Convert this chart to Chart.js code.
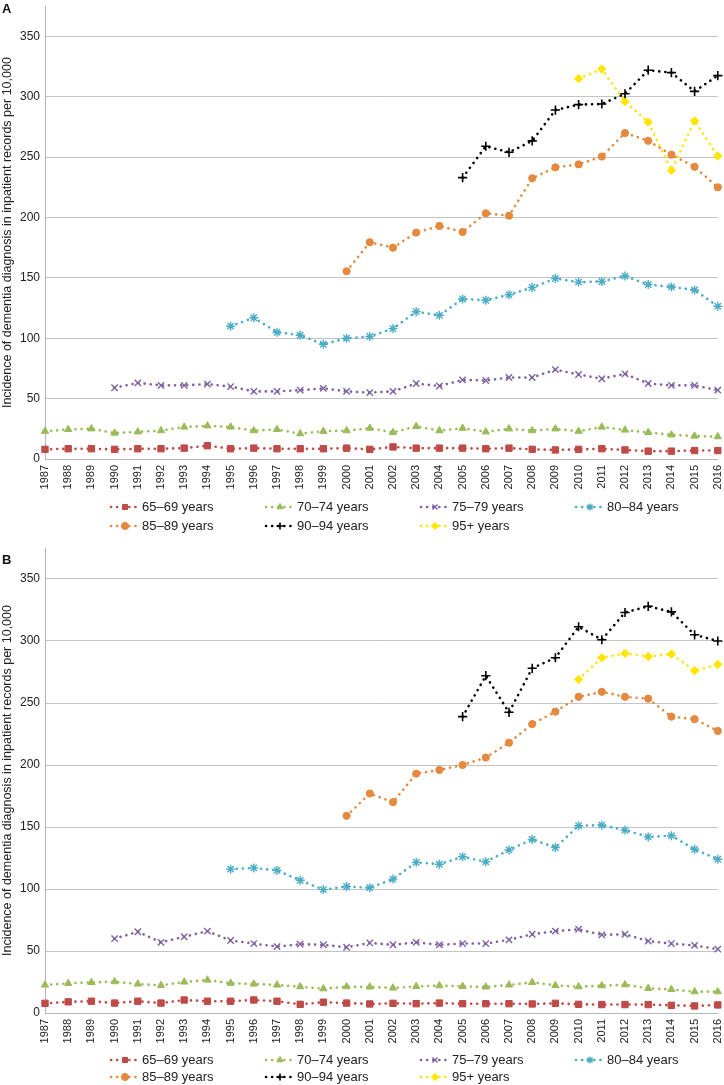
<!DOCTYPE html>
<html lang="en">
<head>
  <meta charset="UTF-8" />
  <title>Incidence of dementia diagnosis in inpatient records</title>
  <script src="https://cdn.jsdelivr.net/npm/chart.js"></script>
  <style>
    body { margin: 0; background: #fff; font-family: "Liberation Sans", Arial, sans-serif; }
    #wrap { position: relative; width: 724px; height: 1085px; }
    canvas { position: absolute; left: 0; }
    .tag { position: absolute; left: 2px; font-weight: bold; font-size: 13px; color: #111; }
  </style>
</head>
<body>
  <div id="wrap">
    <canvas id="chartA" width="724" height="540" style="top:0"></canvas>
    <canvas id="chartB" width="724" height="545" style="top:540px"></canvas>
    <div class="tag" style="top:1px">A</div>
    <div class="tag" style="top:552px">B</div>
  </div>

  <script>
    const years = ['1987','1988','1989','1990','1991','1992','1993','1994','1995','1996',
                   '1997','1998','1999','2000','2001','2002','2003','2004','2005','2006',
                   '2007','2008','2009','2010','2011','2012','2013','2014','2015','2016'];
    const groups = ['65–69 years','70–74 years','75–79 years','80–84 years',
                    '85–89 years','90–94 years','95+ years'];
    const yTicks = [0, 50, 100, 150, 200, 250, 300, 350];
    const _ = null;

    // panel A
    const a65 = [8, 8.5, 8.5, 8, 8.5, 8.5, 9, 11, 8.5, 9, 8.5, 8.5, 8.5, 9, 8, 10, 9, 9, 9, 8.5, 9, 8, 7.5, 8, 8.5, 7.5, 6.5, 6.5, 7, 7];
    const a70 = [23, 24.5, 25, 21.5, 22.5, 23.5, 26.5, 27.5, 26.5, 23.5, 24.5, 21, 23, 23.5, 25.5, 22, 27, 23.5, 25.5, 22.5, 25, 23.5, 25, 23, 26.5, 24, 22, 20, 19, 18.5];
    const a75 = [_, _, _, 59, 63, 61, 61, 62, 60, 56, 56, 57, 58.5, 56, 55, 56, 62.5, 60.5, 65.5, 65, 67.5, 67.5, 74, 70, 66.5, 70.5, 62.5, 61, 61, 57];
    const a80 = [_, _, _, _, _, _, _, _, 110, 117, 105, 102.5, 95, 100, 101.5, 108, 122, 119, 132.5, 131.5, 136, 142, 149.5, 146.5, 147, 151.5, 144.5, 142.5, 140, 126.5];
    const a85 = [_, _, _, _, _, _, _, _, _, _, _, _, _, 155.5, 179.5, 175, 187.5, 193, 188, 203.5, 201.5, 232.5, 241.5, 244, 250.5, 270, 263.5, 252, 242, 225];
    const a90 = [_, _, _, _, _, _, _, _, _, _, _, _, _, _, _, _, _, _, 233, 259, 254, 263.5, 289, 293.5, 294, 302.5, 322, 320, 304.5, 317.5];
    const a95 = [_, _, _, _, _, _, _, _, _, _, _, _, _, _, _, _, _, _, _, _, _, _, _, 315, 323, 296, 279, 239, 280, 251];

    // panel B
    const b65 = [7.8, 9, 9.5, 8, 9.5, 8, 10.5, 9.5, 9.5, 10.5, 9.5, 7, 8.7, 8, 7.3, 7.8, 7.5, 8, 7.5, 7.5, 7.5, 7.3, 7.8, 7, 6.8, 6.8, 6.8, 6.2, 5.7, 6.5];
    const b70 = [22.6, 23.9, 24.7, 25.3, 23.4, 22.3, 25, 26.6, 24, 23.4, 22.6, 21.2, 19.6, 21.2, 21, 20.2, 21.5, 22, 21.5, 21, 22.6, 24.7, 22.3, 21.2, 22, 22.8, 19.9, 19, 17.2, 17.2];
    const b75 = [_, _, _, 60, 65.5, 57, 61.5, 66, 58.5, 56, 53.5, 55.5, 55, 53, 56.5, 55, 57, 55, 56, 56, 59, 63.5, 66, 67.5, 63, 63.5, 58, 56, 54.5, 51.5];
    const b80 = [_, _, _, _, _, _, _, _, 116, 117, 115, 107, 99.5, 102, 101, 108, 121.5, 120, 126, 122, 131.5, 140, 133.5, 151, 151.5, 147.5, 142, 143, 132, 124];
    const b85 = [_, _, _, _, _, _, _, _, _, _, _, _, _, 159, 177, 170, 193, 196, 200, 206, 218, 233, 243, 255, 259, 255, 253.5, 239, 237, 227.5];
    const b90 = [_, _, _, _, _, _, _, _, _, _, _, _, _, _, _, _, _, _, 239, 272, 242.5, 278, 286.5, 311.5, 301, 323, 328, 323.5, 305, 300];
    const b95 = [_, _, _, _, _, _, _, _, _, _, _, _, _, _, _, _, _, _, _, _, _, _, _, 269, 286.5, 290, 287.5, 289.5, 276, 281];

    // marker looks, same order as groups
    const looks = [
      { color: '#BE4B48', style: 'rect',      radius: 4.5, bw: 1 },
      { color: '#9BBB59', style: 'triangle',  radius: 4.2, bw: 1 },
      { color: '#7F63A1', style: 'crossRot',  radius: 4.5, bw: 1.4 },
      { color: '#4AACC5', style: 'star',      radius: 4.5, bw: 1.4 },
      { color: '#E4893E', style: 'circle',    radius: 3.6, bw: 1 },
      { color: '#000000', style: 'cross',     radius: 4.6, bw: 1.6 },
      { color: '#FFE500', style: 'rectRot',   radius: 4.2, bw: 1 }
    ];

    const FONT = '"Liberation Sans", Arial, sans-serif';
    Chart.defaults.font.family = FONT;
    Chart.defaults.color = '#222';

    // legend laid out as a left aligned grid of 4 columns
    const gridLegend = {
      id: 'gridLegend',
      afterDraw(chart, args, opts) {
        const ctx = chart.ctx;
        const base = chart.chartArea.bottom;
        ctx.save();
        ctx.font = '13px ' + FONT;
        ctx.textBaseline = 'middle';
        chart.data.datasets.forEach((ds, i) => {
          const x = opts.left + (i % 4) * opts.colWidth;
          const y = base + opts.rows[Math.floor(i / 4)];
          ctx.strokeStyle = ds.borderColor;
          ctx.lineWidth = ds.borderWidth;
          ctx.lineCap = 'round';
          ctx.setLineDash(ds.borderDash);
          ctx.beginPath();
          ctx.moveTo(x, y);
          ctx.lineTo(x + 27, y);
          ctx.stroke();
          ctx.setLineDash([]);
          ctx.lineCap = 'butt';
          ctx.fillStyle = ds.pointBackgroundColor;
          ctx.lineWidth = ds.pointBorderWidth;
          if (Chart.helpers && Chart.helpers.drawPoint) {
            Chart.helpers.drawPoint(ctx, { pointStyle: ds.pointStyle, radius: 3.6, borderWidth: ds.pointBorderWidth, rotation: 0 }, x + 14, y);
          } else {
            ctx.beginPath(); ctx.arc(x + 14, y, 3.5, 0, Math.PI * 2); ctx.fill();
          }
          ctx.fillStyle = '#222';
          ctx.fillText(ds.label, x + 31, y + 0.5);
        });
        ctx.restore();
      }
    };

    function makeChart(id, series, topPad, xHeight, legendRows) {
      const datasets = series.map((data, i) => ({
        label: groups[i],
        data: data,
        borderColor: looks[i].color,
        backgroundColor: looks[i].color,
        borderWidth: 2.6,
        borderDash: [0.1, 6],
        borderCapStyle: 'round',
        pointStyle: looks[i].style,
        pointRadius: looks[i].radius,
        pointBackgroundColor: looks[i].color,
        pointBorderColor: looks[i].color,
        pointBorderWidth: looks[i].bw,
        tension: 0,
        spanGaps: false,
        clip: false
      }));

      return new Chart(document.getElementById(id), {
        type: 'line',
        data: { labels: years, datasets: datasets },
        plugins: [gridLegend],
        options: {
          responsive: false,
          animation: false,
          events: [],
          layout: { padding: { top: topPad, right: 4, bottom: 0, left: 0 } },
          plugins: {
            legend: { display: false },
            tooltip: { enabled: false },
            gridLegend: { left: 111, colWidth: 155, rows: legendRows }
          },
          scales: {
            x: {
              offset: false,
              grid: { display: false, drawTicks: false },
              border: { display: true, color: '#B5B5B5', width: 1 },
              ticks: { autoSkip: false, minRotation: 90, maxRotation: 90, padding: 6, font: { size: 11 }, color: '#222' },
              afterFit(scale) {
                scale.height = xHeight;
                scale.paddingLeft = 0;
                scale.paddingRight = 0;
              }
            },
            y: {
              min: 0,
              max: 375,
              afterBuildTicks(scale) {
                scale.ticks = yTicks.map(v => ({ value: v }));
              },
              grid: { color: '#C4C4C4', lineWidth: 1, drawTicks: false },
              border: { display: true, color: '#B5B5B5', width: 1 },
              ticks: { padding: 5, font: { size: 12 }, color: '#222' },
              title: {
                display: true,
                text: 'Incidence of dementia diagnosis in inpatient records per 10,000',
                font: { size: 12.5 },
                color: '#222',
                padding: { top: 0, bottom: 0 }
              },
              afterFit(scale) {
                scale.width = 45;
                scale.paddingTop = 0;
                scale.paddingBottom = 0;
              }
            }
          }
        }
      });
    }

    makeChart('chartA', [a65, a70, a75, a80, a85, a90, a95], 0, 81, [48, 67]);
    makeChart('chartB', [b65, b70, b75, b80, b85, b90, b95], 8, 72, [47, 64]);
  </script>
</body>
</html>
